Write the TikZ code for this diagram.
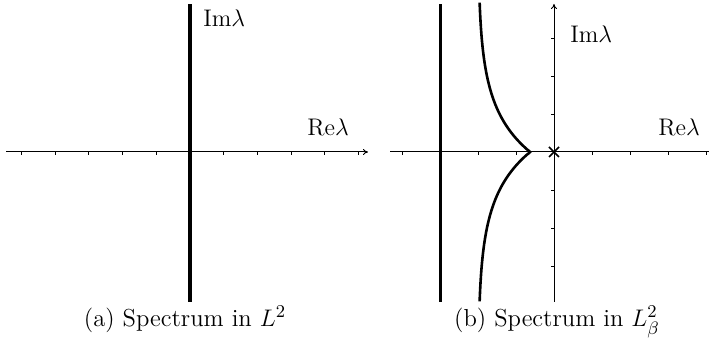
\documentclass[tikz,border=0pt]{standalone}
\usepackage{amsmath}
\usetikzlibrary{arrows.meta,positioning}

\begin{document}
\begin{tikzpicture}[x=0.5pt,y=0.5pt,every node/.style={font=\fontsize{12.3}{15}\selectfont},
 axis/.style={line width=0.5pt},
 tick/.style={line width=0.45pt},
 lbl/.style={inner sep=0pt,anchor=base west},
 captext/.style={inner sep=0pt,anchor=base}]
\useasboundingbox (0,0) rectangle (709,346);
% (a) spectrum in L^2
\coordinate (oA) at (190,194);
\draw[axis,-{To[length=2.5pt,width=3pt]}] (6,194) -- (368,194);
\foreach \k in {-5,...,-1,1,2,...,5}
  {\draw[tick] (190+33.7*\k,194) -- (190+33.7*\k,190.5);}
\draw[line width=2.1pt] (190,44) -- (190,342);
\node[lbl] (imA) at (203,319) {$\mathrm{Im}\lambda$};
\node[lbl] (reA) at (307,210) {$\mathrm{Re}\lambda$};
\node[captext] (capA) at (185,19.5) {(a) Spectrum in $L^2$};
% (b) spectrum in L^2_beta
\coordinate (oB) at (554,194);
\draw[axis] (390,194) -- (709,194);
\draw[axis,-{To[length=2.5pt,width=3pt]}] (554,44) -- (554,342);
\foreach \k in {-4,...,-1,1,2,...,4}
  {\draw[tick] (554+38*\k,194) -- (554+38*\k,190.5);}
\foreach \k in {-3,...,-1,1,2,3}
  {\draw[tick] (554,194+38*\k) -- (550.5,194+38*\k);}
\draw[line width=1.5pt] (440,44) -- (440,342);
\draw[line width=1.3pt,miter limit=20] plot[domain=-3.93:3.93,samples=131,smooth]
  ({554+38*(-2+1.37*exp(-0.88*abs(\x)))},{194+38*\x});
\draw[line width=0.8pt] ([shift={(-5,-5)}]oB) -- ([shift={(5,5)}]oB)
  ([shift={(-5,5)}]oB) -- ([shift={(5,-5)}]oB);
\node[lbl] (imB) at (570,303) {$\mathrm{Im}\lambda$};
\node[lbl] (reB) at (658,210) {$\mathrm{Re}\lambda$};
\node[captext] (capB) at (557,19.5) {(b) Spectrum in $L^2_\beta$};
\end{tikzpicture}
\end{document}
